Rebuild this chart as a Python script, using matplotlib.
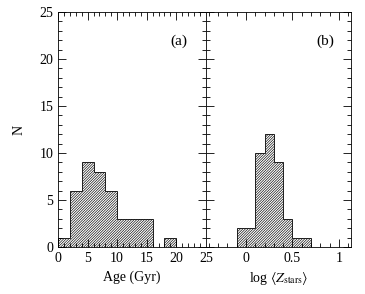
import matplotlib
matplotlib.use('Agg')
import matplotlib.pyplot as plt
from matplotlib.ticker import MultipleLocator

# histogram data
age_edges = [0, 2, 4, 6, 8, 10, 12, 14, 16, 18, 20]
age_counts = [1, 6, 9, 8, 6, 3, 3, 3, 0, 1]

z_edges = [-0.1, 0.0, 0.1, 0.2, 0.3, 0.4, 0.5, 0.6, 0.7]
z_counts = [2, 2, 10, 12, 9, 3, 1, 1]

plt.rcParams['font.family'] = 'Liberation Serif'
plt.rcParams['mathtext.fontset'] = 'stix'
plt.rcParams['hatch.linewidth'] = 0.45

fig = plt.figure(figsize=(3.65, 2.94), dpi=100)
ax1 = fig.add_axes([0.159, 0.16, 0.405, 0.799])
ax2 = fig.add_axes([0.564, 0.16, 0.398, 0.799])

hatch = '/' * 13
ax1.stairs(age_counts, age_edges, fill=True, facecolor='white',
           edgecolor='black', hatch=hatch, linewidth=0.6)
ax2.stairs(z_counts, z_edges, fill=True, facecolor='white',
           edgecolor='black', hatch=hatch, linewidth=0.6)

ax1.set_xlim(0, 25)
ax2.set_xlim(-0.43, 1.13)
for ax in (ax1, ax2):
    ax.set_ylim(0, 25)
    ax.yaxis.set_major_locator(MultipleLocator(5))
    ax.yaxis.set_minor_locator(MultipleLocator(1))
    ax.tick_params(which='both', direction='in', top=True, right=True,
                   labelsize=10, width=0.6, colors='black')
    ax.tick_params(which='major', length=6)
    ax.tick_params(which='minor', length=3)
    for s in ax.spines.values():
        s.set_linewidth(0.6)

ax1.xaxis.set_major_locator(MultipleLocator(5))
ax1.xaxis.set_minor_locator(MultipleLocator(1))
ax2.xaxis.set_major_locator(MultipleLocator(0.5))
ax2.xaxis.set_minor_locator(MultipleLocator(0.1))
ax2.set_xticks([0, 0.5, 1])
ax2.set_xticklabels(['0', '0.5', '1'])
ax2.tick_params(labelleft=False)

ax1.set_ylabel('N', fontsize=10, labelpad=10)
ax1.set_xlabel('Age (Gyr)', fontsize=10, labelpad=4)
ax2.set_xlabel(r'log $\langle Z_{\rm stars}\rangle$', fontsize=10, labelpad=4)

ax1.text(0.76, 0.86, '(a)', transform=ax1.transAxes, fontsize=11)
ax2.text(0.76, 0.86, '(b)', transform=ax2.transAxes, fontsize=11)

fig.savefig('out.png', dpi=100)
